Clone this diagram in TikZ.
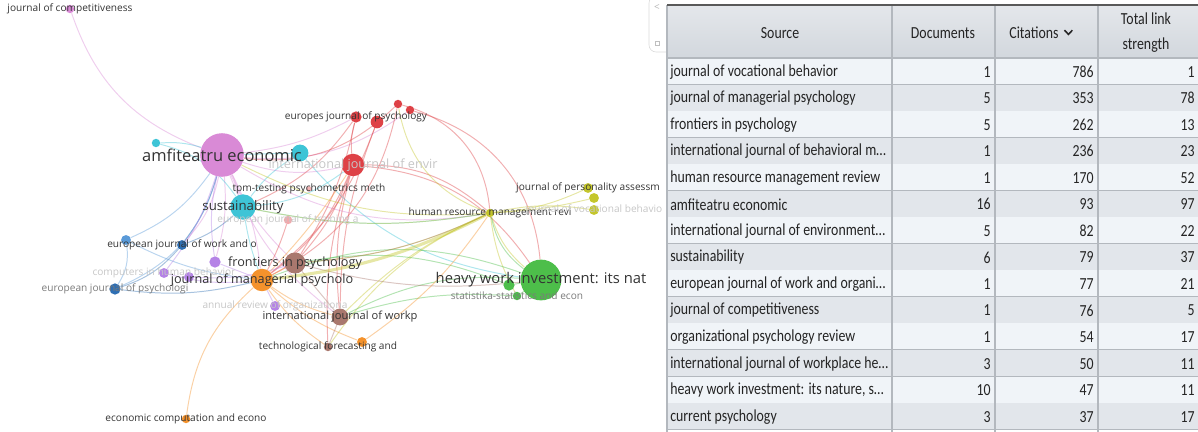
\documentclass[tikz,border=0pt]{standalone}
\usepackage{fontspec}
\setmainfont{Open Sans}
\newfontfamily\tabfont[FakeStretch=0.82]{Carlito}
\usetikzlibrary{positioning}
\usepackage{xcolor}
\definecolor{vpink}{HTML}{D98AD6}
\definecolor{vcyan}{HTML}{3EC4D6}
\definecolor{vred}{HTML}{DE4146}
\definecolor{vbrown}{HTML}{A9786E}
\definecolor{vorange}{HTML}{F4922C}
\definecolor{vblue}{HTML}{2F6FB3}
\definecolor{vbluelt}{HTML}{5A9AD8}
\definecolor{vpurple}{HTML}{B583E6}
\definecolor{vyellow}{HTML}{C4C62C}
\definecolor{vgreen}{HTML}{4DBE4A}
\definecolor{labdark}{HTML}{333333}
\definecolor{labmid}{HTML}{7A7A7A}
\definecolor{labfaint}{HTML}{C6C6C6}
\definecolor{rowlight}{HTML}{F0F4F8}
\definecolor{rowdark}{HTML}{E2E6EB}
\definecolor{hdtop}{HTML}{E4E7EB}
\definecolor{hdbot}{HTML}{D2D7DD}
\definecolor{gridline}{HTML}{B3B8BE}
\definecolor{tabtext}{HTML}{242424}
\pgfdeclarelayer{edges}
\pgfsetlayers{edges,main}
\tikzset{
  jnode/.style={circle, inner sep=0pt, fill=#1},
  jlab/.style={inner sep=0pt, text=labdark, font=\fontsize{7.2}{8}\selectfont},
  jlabmid/.style={jlab, font=\fontsize{9}{10}\selectfont},
  jlabbig/.style={jlab, font=\fontsize{11.7}{13}\selectfont},
  faint/.style={text=labfaint},
  link/.style={draw=#1, draw opacity=0.42, line width=0.7pt},
  srccell/.style={anchor=west, inner sep=0pt, text=tabtext, font=\tabfont\fontsize{12}{14}\selectfont},
  numcell/.style={srccell, anchor=east},
  headcell/.style={inner sep=0pt, align=center, text=tabtext, font=\tabfont\fontsize{12}{17.8}\selectfont}
}

\begin{document}
\begin{tikzpicture}[x=0.025cm, y=-0.025cm]
  \useasboundingbox (0,0) rectangle (1198,432);

  % journals (circles)
  \node[jnode=vpink, minimum size=6pt] (comp) at (70,9) {};
  \node[jnode=vpink, minimum size=31pt] (amfi) at (222,155) {};
  \node[jnode=vcyan, minimum size=12pt] (cyanA) at (300,153) {};
  \node[jnode=vcyan, minimum size=6pt] (cyanB) at (156,143) {};
  \node[jnode=vred, minimum size=16pt] (env) at (353,165) {};
  \node[jnode=vred, minimum size=8pt] (europes) at (356,117) {};
  \node[jnode=vred, minimum size=9pt] (redB) at (377,122) {};
  \node[jnode=vred, minimum size=6pt] (redC) at (398,104) {};
  \node[jnode=vred, minimum size=6pt] (redD) at (410,110) {};
  \node[jnode=vred!40, minimum size=4pt] (tpm) at (309,189) {};
  \node[jnode=vred!45, minimum size=6pt] (train) at (288,220) {};
  \node[jnode=vcyan, minimum size=18pt] (sust) at (243,207) {};
  \node[jnode=vblue, minimum size=7pt] (euwork) at (182,245) {};
  \node[jnode=vbluelt, minimum size=7pt] (blueA) at (126,240) {};
  \node[jnode=vbrown, minimum size=15pt] (front) at (295,263) {};
  \node[jnode=vpurple, minimum size=8pt] (purA) at (215,262) {};
  \node[jnode=vpurple, minimum size=7pt] (purB) at (164,273) {};
  \node[jnode=vpurple, minimum size=7pt] (purC) at (189,277) {};
  \node[jnode=vorange, minimum size=16pt] (manag) at (262,280) {};
  \node[jnode=vblue, minimum size=8pt] (eupsy) at (115,289) {};
  \node[jnode=vpurple, minimum size=7pt] (annual) at (275,306) {};
  \node[jnode=vbrown, minimum size=12pt] (workp) at (340,317) {};
  \node[jnode=vbrown, minimum size=6pt] (techno) at (328,347) {};
  \node[jnode=vorange, minimum size=7pt] (oranB) at (362,342) {};
  \node[jnode=vorange, minimum size=6pt] (econ) at (186,419) {};
  \node[jnode=vyellow, minimum size=6pt] (hrm) at (490,213) {};
  \node[jnode=vyellow, minimum size=7pt] (pers) at (588,188) {};
  \node[jnode=vyellow, minimum size=7pt] (yelB) at (594,198) {};
  \node[jnode=vyellow, minimum size=7pt] (voc) at (594,210) {};
  \node[jnode=vgreen, minimum size=29pt] (heavy) at (541,280) {};
  \node[jnode=vgreen, minimum size=8pt] (greenA) at (509,285) {};
  \node[jnode=vgreen, minimum size=6pt] (stat) at (517,296) {};

  % links
  \begin{pgfonlayer}{edges}
    \foreach \a/\b/\bend/\c in {comp/amfi/-25/vpink, amfi/europes/-10/vpink, amfi/env/-15/vpink,
      amfi/manag/10/vpink, amfi/front/-10/vpink, amfi/sust/5/vpink, amfi/workp/-15/vpink,
      amfi/hrm/-20/vpink, amfi/redD/-20/vpink, amfi/euwork/15/vpink, amfi/purA/10/vpink,
      cyanB/amfi/10/vcyan, cyanA/amfi/0/vcyan, cyanB/sust/20/vcyan, sust/env/-15/vcyan,
      sust/cyanA/10/vcyan, sust/hrm/-10/vcyan, cyanA/heavy/-20/vcyan, sust/manag/-5/vcyan,
      env/manag/15/vred, env/workp/-10/vred, env/front/10/vred, env/hrm/20/vred,
      env/heavy/25/vred, env/europes/10/vred, redB/manag/15/vred, europes/sust/15/vred,
      redC/hrm/35/vred, redD/heavy/35/vred, redB/workp/-10/vred, amfi/redC/-25/vred,
      redC/manag/25/vred, europes/front/10/vred, env/techno/-10/vred, train/manag/5/vred,
      hrm/heavy/-15/vyellow, hrm/pers/-10/vyellow, hrm/voc/10/vyellow, hrm/yelB/-5/vyellow,
      hrm/front/10/vyellow, hrm/redC/30/vyellow, hrm/workp/-10/vyellow,
      hrm/techno/-15/vyellow, hrm/stat/-10/vyellow, hrm/sust/10/vyellow, hrm/amfi/15/vyellow,
      heavy/workp/-15/vgreen, heavy/manag/-20/vgreen, heavy/greenA/0/vgreen, heavy/stat/0/vgreen,
      greenA/front/-15/vgreen, stat/workp/-10/vgreen, heavy/hrm/20/vgreen,
      manag/econ/-20/vorange, manag/techno/-10/vorange, manag/oranB/-10/vorange,
      manag/workp/-10/vorange, manag/front/0/vorange, oranB/hrm/-10/vorange, manag/env/-5/vorange,
      euwork/eupsy/15/vblue, euwork/amfi/-10/vblue, euwork/sust/-10/vblue, blueA/manag/-10/vbluelt,
      eupsy/manag/-10/vblue, blueA/amfi/-15/vbluelt, eupsy/amfi/-25/vbluelt, blueA/eupsy/20/vbluelt,
      purA/manag/0/vpurple, purB/manag/-10/vpurple, purC/front/-10/vpurple, purA/amfi/10/vpurple,
      annual/manag/0/vpurple, purB/amfi/-10/vpurple,
      front/workp/0/vbrown, front/hrm/-10/vbrown, workp/techno/0/vbrown, front/heavy/-10/vbrown}
      \draw[link=\c] (\a) to[bend left=\bend] (\b);
    \draw[link=vyellow, line width=2.2pt] (hrm) to[bend left=10] (manag);
  \end{pgfonlayer}

  % labels
  \node[jlab] (comp-l) at (comp) {journal of competitiveness};
  \node[jlabbig] (amfi-l) at (amfi) {amfiteatru economic};
  \node[jlabmid, faint] (env-l) at (env) {international journal of envir};
  \node[jlab] (europes-l) at (europes) {europes journal of psychology};
  \node[jlab] (tpm-l) at (tpm) {tpm-testing psychometrics meth};
  \node[jlab, faint] (train-l) at (train) {european journal of training a};
  \node[jlabmid, font=\fontsize{9.4}{10}\selectfont] (sust-l) at (sust) {sustainability};
  \node[jlab] (euwork-l) at (euwork) {european journal of work and o};
  \node[jlab, faint] (purB-l) at (purB) {computers in human behavior};
  \node[jlab, text=labmid] (eupsy-l) at (eupsy) {european journal of psychologi};
  \node[jlab, faint] (annual-l) at (annual) {annual review of organizationa};
  \node[jlabmid] (front-l) at (front) {frontiers in psychology};
  \node[jlabmid] (manag-l) at (manag) {journal of managerial psycholo};
  \node[jlab, font=\fontsize{7.9}{9}\selectfont] (workp-l) at (workp) {international journal of workp};
  \node[jlab] (techno-l) at (techno) {technological forecasting and};
  \node[jlab] (econ-l) at (econ) {economic computation and econo};
  \node[jlab] (hrm-l) at (hrm) {human resource management revi};
  \node[jlab] (pers-l) at (pers) {journal of personality assessm};
  \node[jlab, faint] (voc-l) at (voc) {journal of vocational behavio};
  \node[jlab, font=\fontsize{10.5}{12}\selectfont] (heavy-l) at (heavy) {heavy work investment: its nat};
  \node[jlab, text=labmid] (stat-l) at (stat) {statistika-statistics and econ};

  % side tab
  \draw[gray!30, rounded corners=5pt] (668,-4) -- (649,-4) -- (649,52) -- (668,52);
  \node[text=gray!60, font=\fontsize{7}{8}\selectfont] (tab-l) at (657,8) {<};
  \node[draw=gray!50, minimum size=3pt, inner sep=0pt] (tab-i) at (657,43) {};

  % table
  \shade[top color=hdtop, bottom color=hdbot] (667,5) rectangle (1198,58);
  \foreach \src/\doc/\cit/\tls [count=\i] in {
      journal of vocational behavior/1/786/1,
      journal of managerial psychology/5/353/78,
      frontiers in psychology/5/262/13,
      international journal of behavioral m…/1/236/23,
      human resource management review/1/170/52,
      amfiteatru economic/16/93/97,
      international journal of environment…/5/82/22,
      sustainability/6/79/37,
      european journal of work and organi…/1/77/21,
      journal of competitiveness/1/76/5,
      organizational psychology review/1/54/17,
      international journal of workplace he…/3/50/11,
      {heavy work investment: its nature, s…}/10/47/11,
      current psychology/3/37/17}{
    \pgfmathsetmacro\ytop{58+26.55*(\i-1)}
    \pgfmathsetmacro\ybot{\ytop+26.55}
    \pgfmathsetmacro\ymid{\ytop+13.6}
    \ifodd\i \def\rowcol{rowlight}\else \def\rowcol{rowdark}\fi
    \fill[\rowcol] (667,\ytop) rectangle (1198,\ybot);
    \node[srccell] (src\i) at (670,\ymid) {\src};
    \node[numcell] (doc\i) at (991,\ymid) {\doc};
    \node[numcell] (cit\i) at (1094,\ymid) {\cit};
    \node[numcell] (tls\i) at (1195,\ymid) {\tls};
    \draw[gridline, line width=0.8pt] (667,\ybot) -- (1198,\ybot);
  }
  \draw[gridline, line width=0.8pt] (667,58) -- (1198,58);
  \foreach \x in {667,892,995,1098}
    \draw[gridline, line width=0.8pt] (\x,5) -- (\x,432);
  \draw[gray!70!black, line width=1.2pt] (667,5) -- (1198,5);

  \node[headcell] (h-src) at (780,33) {Source};
  \node[headcell] (h-doc) at (943,33) {Documents};
  \node[headcell] (h-cit) at (1034,33) {Citations};
  \draw[tabtext, line width=1.1pt] ([xshift=4pt,yshift=2pt]h-cit.east) -- ++(2.8pt,-3pt) -- ++(2.8pt,3pt);
  \node[headcell] (h-tls) at (1146,33) {Total link\\strength};
\end{tikzpicture}
\end{document}
